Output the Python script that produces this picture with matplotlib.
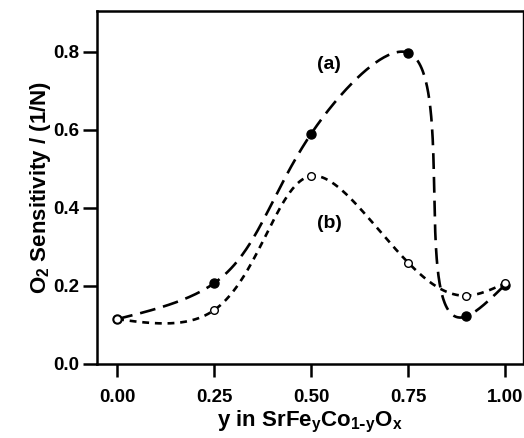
import numpy as np
import matplotlib
matplotlib.use('Agg')
import matplotlib.pyplot as plt

# values
y_frac = [0.0, 0.25, 0.5, 0.75, 0.9, 1.0]
sens_a = [0.115, 0.207, 0.59, 0.798, 0.122, 0.203]
sens_b = [0.115, 0.138, 0.482, 0.26, 0.175, 0.207]
x_ticks = [0.0, 0.25, 0.5, 0.75, 1.0]
y_ticks = [0.0, 0.2, 0.4, 0.6, 0.8]


def natural_spline(t, v, tt):
    # natural cubic spline of v(t), evaluated at tt
    t = np.asarray(t, float)
    v = np.asarray(v, float)
    n = len(t)
    h = np.diff(t)
    A = np.zeros((n, n))
    r = np.zeros(n)
    A[0, 0] = A[-1, -1] = 1
    for i in range(1, n - 1):
        A[i, i - 1] = h[i - 1]
        A[i, i] = 2 * (h[i - 1] + h[i])
        A[i, i + 1] = h[i]
        r[i] = 6 * ((v[i + 1] - v[i]) / h[i] - (v[i] - v[i - 1]) / h[i - 1])
    m = np.linalg.solve(A, r)
    k = np.clip(np.searchsorted(t, tt) - 1, 0, n - 2)
    d = tt - t[k]
    hk = h[k]
    b = (v[k + 1] - v[k]) / hk - hk * (2 * m[k] + m[k + 1]) / 6
    return v[k] + b * d + m[k] / 2 * d ** 2 + (m[k + 1] - m[k]) / (6 * hk) * d ** 3


def smooth_curve(x, y):
    # parametric spline through the points (chord length parameter)
    x = np.asarray(x, float)
    y = np.asarray(y, float)
    t = np.concatenate([[0], np.cumsum(np.hypot(np.diff(x), np.diff(y)))])
    tt = np.linspace(0, t[-1], 400)
    return natural_spline(t, x, tt), natural_spline(t, y, tt)


plt.rcParams['font.family'] = 'Liberation Sans'
plt.rcParams['font.weight'] = 'bold'

fig = plt.figure(figsize=(5.24, 4.38), dpi=100)
ax = fig.add_axes([0.185, 0.169, 0.813, 0.806])

xa, ya = smooth_curve(y_frac, sens_a)
xb, yb = smooth_curve(y_frac, sens_b)
ax.plot(xa, ya, color='black', lw=1.9, dashes=(6, 3))
ax.plot(xb, yb, color='black', lw=1.9, dashes=(2.6, 2.2))
ax.plot(y_frac, sens_a, 'o', color='black', ms=6.5)
ax.plot(y_frac, sens_b, 'o', mfc='white', mec='black', mew=1.0, ms=5.5)

ax.text(0.546, 0.767, '(a)', fontsize=14, fontweight='bold', ha='center', va='center')
ax.text(0.546, 0.36, '(b)', fontsize=14, fontweight='bold', ha='center', va='center')

ax.set_xlim(-0.052, 1.046)
ax.set_ylim(0, 0.905)
ax.set_xticks(x_ticks)
ax.set_yticks(y_ticks)
ax.set_xticklabels(['%.2f' % v for v in x_ticks])
ax.set_yticklabels(['%.1f' % v for v in y_ticks])
ax.tick_params(direction='out', width=1.8, labelsize=13.5)
ax.tick_params(axis='x', length=9, pad=9)
ax.tick_params(axis='y', length=10, pad=3)
for s in ax.spines.values():
    s.set_linewidth(1.8)
ax.spines['right'].set_linewidth(1.0)

ax.set_xlabel('y in SrFe$_\\mathregular{y}$Co$_\\mathregular{1\\text{-}y}$O$_\\mathregular{x}$',
              fontsize=16, fontweight='bold', labelpad=2)
ax.set_ylabel('O$_\\mathregular{2}$ Sensitivity / (1/N)', fontsize=16, fontweight='bold',
              labelpad=0)

fig.savefig('out.png', dpi=100)
